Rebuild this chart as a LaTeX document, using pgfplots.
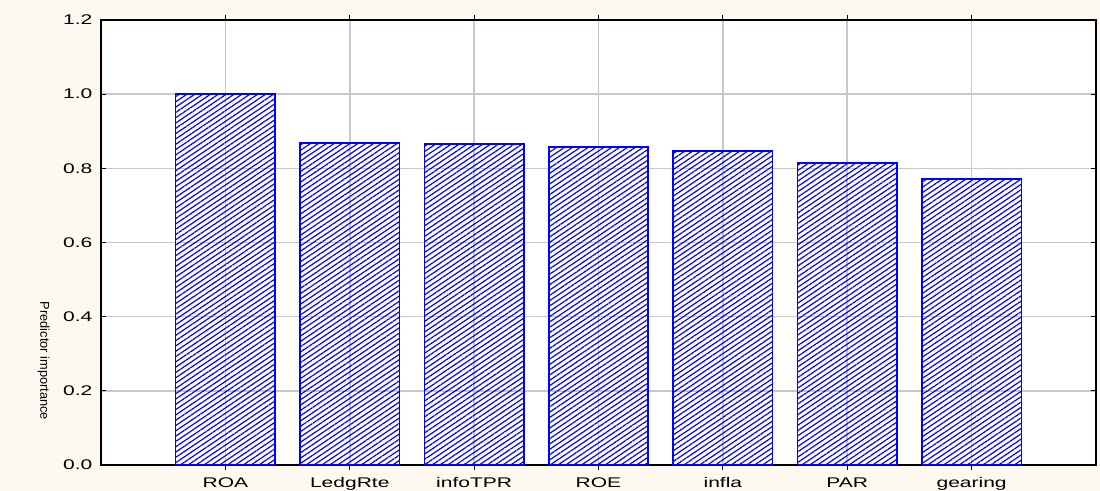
\documentclass[border=0pt]{standalone}
\usepackage{fontspec}
\setmainfont{Liberation Sans}
\newfontfamily\chartfont[FakeStretch=1.5]{Liberation Sans}
\usepackage{pgfplots}
\pgfplotsset{compat=1.18}
\usetikzlibrary{patterns.meta}
\definecolor{cream}{RGB}{253,249,240}
\definecolor{gridgray}{RGB}{200,200,200}
\begin{document}
\begin{tikzpicture}
\fill[cream] (-75.75pt,-19.5pt) rectangle (749.25pt,348.75pt);
\begin{axis}[
  at={(0,0)}, anchor=south west,
  scale only axis,
  width=746.25pt, height=333.75pt,
  xmin=0, xmax=8, ymin=0, ymax=1.2,
  xtick={1,2,3,4,5,6,7},
  xticklabels={ROA,LedgRte,infoTPR,ROE,infla,PAR,gearing},
  ytick={0,0.2,0.4,0.6,0.8,1.0,1.2},
  y tick label style={/pgf/number format/fixed,/pgf/number format/fixed zerofill,/pgf/number format/precision=1},
  /pgf/number format/assume math mode=true,
  tick label style={font=\fontsize{10.5pt}{12pt}\chartfont},
  xticklabel style={yshift=-2pt},
  yticklabel style={xshift=-3pt},
  axis background/.style={fill=white},
  axis line style={black, line width=1.2pt},
  grid=major,
  major grid style={gridgray, line width=1.2pt},
  tick align=inside,
  major tick length=4pt,
  tick style={black, line width=0.9pt},
  xtick pos=both, ytick pos=both,
  ybar, bar width=0.8,
  axis on top=false,
  clip=false,
]
\addplot[draw=blue, line width=1.3pt,
  pattern={Lines[angle=34,distance=3.3pt,line width=0.9pt]}, pattern color=blue]
  coordinates {(1,1.0) (2,0.869) (3,0.865) (4,0.857) (5,0.847) (6,0.815) (7,0.772)};
\node[rotate=-90, font=\fontsize{9.6pt}{11pt}\selectfont, inner sep=0pt]
  at (rel axis cs:-0.0575,0.234) {Predictor importance};
\end{axis}
\pgfresetboundingbox
\path (-75.75pt,-19.5pt) rectangle (749.25pt,348.75pt);
\end{tikzpicture}
\end{document}
